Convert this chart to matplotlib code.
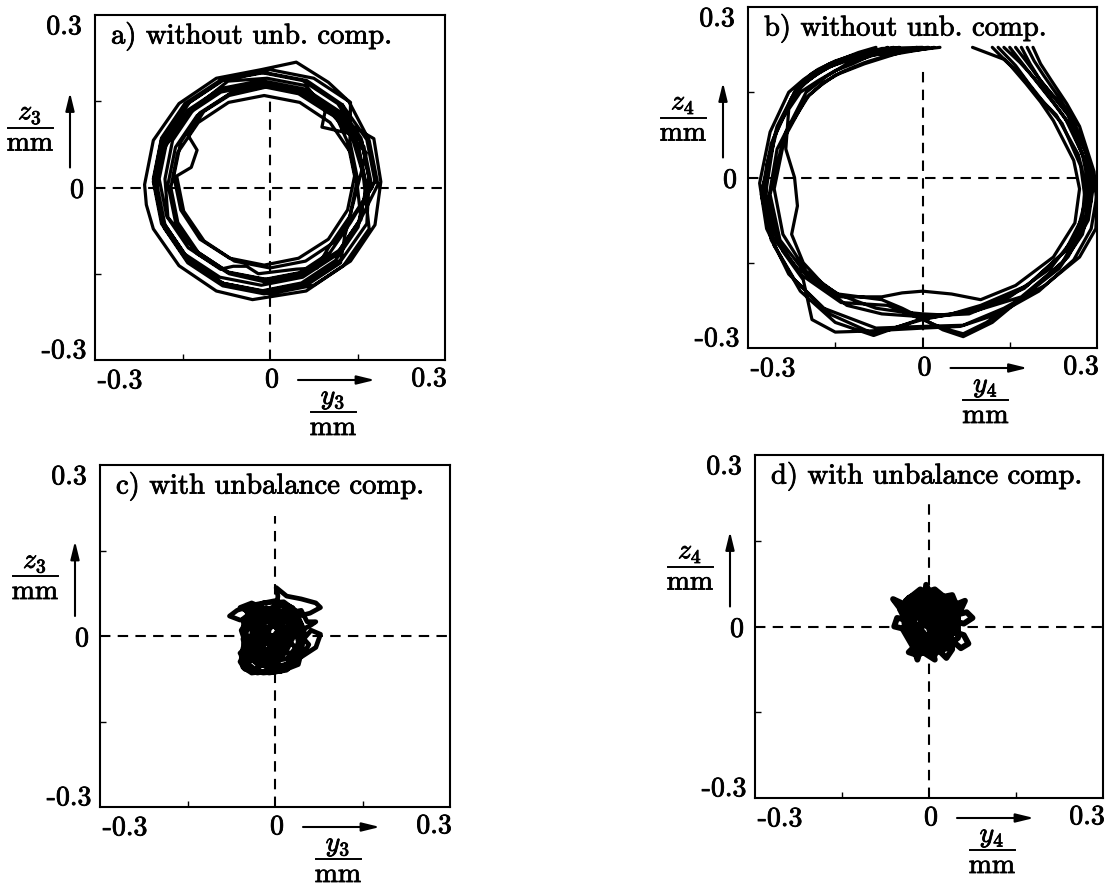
import numpy as np
import matplotlib
matplotlib.use("Agg")
import matplotlib.pyplot as plt
import matplotlib.patheffects as pe
from matplotlib.lines import Line2D

plt.rcParams['mathtext.fontset'] = 'cm'
plt.rcParams['font.family'] = ['cmr10', 'DejaVu Serif']
plt.rcParams['axes.formatter.use_mathtext'] = True

# ---------------- data ----------------
tick_values = [-0.3, 0.0, 0.3]
tick_labels = ['-0.3', '0', '0.3']
minor_ticks = [-0.15, 0.15]
titles = ['a) without unb. comp.', 'b) without unb. comp.',
          'c) with unbalance comp.', 'd) with unbalance comp.']
y_numerators = [r'$z_3$', r'$z_4$', r'$z_3$', r'$z_4$']
x_numerators = [r'$y_3$', r'$y_4$', r'$y_3$', r'$y_4$']
unit = 'mm'

# a) orbit y3 / z3 without unbalance compensation
a_y = [.180,.166,.124,.063,-.010,-.083,-.144,-.186,-.200,-.186,-.144,-.083,-.010,.063,.124,.166,
       .170,.157,.132,.089,.095,.062,-.005,-.072,-.129,-.167,-.180,-.175,-.129,-.072,-.005,.062,.119,.157,
       .185,.170,.135,.100,.045,-.015,-.092,-.156,-.200,-.215,-.212,-.200,-.156,-.092,-.030,.062,.126,.170,
       .160,.148,.113,.061,.000,-.061,-.113,-.140,-.125,-.135,-.160,-.148,-.113,-.061,.000,.061,.113,.148,
       .175,.161,.121,.061,-.010,-.081,-.141,-.181,-.195,-.181,-.141,-.081,-.010,.061,.121,.128,.165,
       .100,.045,-.020,-.085,-.140,-.177,-.190,-.177,-.140,-.085,-.063,-.040,-.020,.045,.080,.100,.137,.150,.137,
       .138,.075,.000,-.075,-.138,-.180,-.195,-.180,-.138,-.075,.000,.075,.138,.180,.190,.178,
       .100,.049,-.010,-.069,-.120,-.153,-.165,-.153,-.120,-.069,-.010,.049,.100,.133,.145,.133,
       .112,.054,-.015,-.084,-.142,-.181,-.195,-.181,-.142,-.084,-.015,.054,.112,.151,.165,.151,.124,
       .165,.152,.115,.060,-.005,-.070,-.125,-.162,-.175,-.162,-.125,-.070,-.005,.060,.115,.152,
       .170,.156,.116,.056,-.015,-.086,-.146,-.186,-.200,-.186,-.146,-.086,-.015,.056,.116,.156,
       .150,.138,.103,.051,-.010,-.071,-.123,-.158,-.170,-.158,-.123,-.071,-.010,.051,.103,.138,.180]
a_z = [.010,.083,.144,.186,.200,.186,.144,.083,.010,-.063,-.124,-.166,-.180,-.166,-.124,-.063,
       .015,.082,.095,.105,.135,.177,.190,.185,.139,.082,.015,-.052,-.109,-.147,-.160,-.147,-.109,-.052,
       .005,.082,.150,.183,.218,.205,.190,.146,.082,.005,-.030,-.072,-.136,-.180,-.195,-.180,-.136,-.072,
       .020,.081,.133,.168,.180,.168,.133,.090,.065,.035,.020,-.041,-.093,-.128,-.140,-.128,-.093,-.041,
       .000,.071,.131,.171,.185,.171,.131,.071,.000,-.071,-.131,-.171,-.185,-.171,-.131,-.085,.060,
       .135,.172,.185,.172,.135,.080,.015,-.050,-.105,-.142,-.137,-.137,-.150,-.142,-.140,-.105,-.050,.015,.080,
       .148,.190,.205,.190,.148,.085,.010,-.065,-.128,-.170,-.185,-.170,-.128,-.065,.010,.085,
       .130,.163,.175,.163,.130,.079,.020,-.039,-.090,-.123,-.135,-.123,-.090,-.039,.020,.079,
       .127,.166,.180,.166,.127,.069,.000,-.069,-.127,-.166,-.180,-.166,-.127,-.069,.000,.069,.144,
       .005,.070,.125,.170,.175,.160,.125,.070,.005,-.060,-.115,-.150,-.165,-.150,-.115,-.060,
       .015,.086,.146,.186,.200,.186,.146,.086,.015,-.056,-.116,-.156,-.170,-.156,-.116,-.056,
       .000,.061,.113,.148,.160,.148,.113,.061,.000,-.061,-.113,-.148,-.160,-.148,-.113,-.061,.010]

# b) orbit y4 / z4 without unbalance compensation (signal leaves range at top -> gaps)
nan = float('nan')
b_y = [.140,.168,.192,.218,.245,.280,.293,.285,.250,.185,.120,.070,.035,.000,-.035,-.070,-.145,-.215,-.262,-.275,-.250,-.210,-.180,-.150,-.110,-.070,.000, nan,
       .160,.178,.196,.222,.250,.275,.285,.280,.240,.170,.090,.045,.000,-.040,-.084,-.150,-.210,-.255,-.270,-.255,-.220,-.190,-.160,-.125,-.090,.030, nan,
       .120,.152,.178,.203,.225,.260,.270,.262,.225,.160,.100,.050,.000,-.035,-.070,-.140,-.200,-.240,-.255,-.235,-.195,-.170,-.140,-.100,-.060,.020, nan,
       .180,.192,.208,.235,.260,.290,.300,.290,.260,.200,.130,.065,.000,-.090,-.150,-.190,-.205,-.240,-.270,-.268,-.250,-.215,-.190,-.160,-.110,-.080, nan,
       .086,.140,.172,.198,.230,.268,.280,.275,.245,.175,.100,.050,.000,-.070,-.130,-.200,-.245,-.262,-.240,-.200,-.175,-.150,-.100,-.010, nan,
       .150,.172,.195,.226,.255,.283,.290,.275,.235,.160,.110,.070,.035,.000,-.060,-.140,-.210,-.250,-.265,-.250,-.200,-.165,-.130,-.085,-.040,.010, nan,
       .170,.185,.203,.230,.255,.282,.290,.283,.250,.180,.100,.050,.000,-.040,-.084,-.160,-.220,-.260,-.277,-.260,-.225,-.200,-.170,-.135,-.100,-.050, nan,
       .130,.160,.183,.210,.240,.272,.280,.265,.220,.150,.080,.040,.000,-.040,-.080,-.160,-.205,-.225,-.215,-.220,-.235,-.230,-.210,-.180,-.150,-.120,-.060, nan,
       .190,.203,.222,.248,.270,.295,.300,.298,.270,.210,.140,.070,.000,-.080,-.170,-.230,-.268,-.280,-.262,-.230,-.205,-.180,-.150,-.120,-.040]
b_z = [.229,.202,.175,.142,.105,.030,-.020,-.075,-.140,-.200,-.255,-.280,-.268,-.248,-.230,-.215,-.205,-.160,-.100,-.020,.085,.160,.183,.200,.215,.227,.229, nan,
       .229,.205,.180,.146,.110,.040,-.010,-.080,-.150,-.210,-.235,-.242,-.248,-.262,-.278,-.255,-.200,-.120,-.030,.070,.150,.176,.195,.207,.215,.229, nan,
       .229,.196,.165,.133,.100,.030,-.020,-.080,-.140,-.190,-.215,-.205,-.200,-.203,-.210,-.210,-.165,-.100,-.020,.080,.145,.167,.185,.202,.215,.229, nan,
       .229,.205,.180,.140,.100,.020,-.030,-.090,-.145,-.200,-.240,-.262,-.265,-.270,-.272,-.250,-.180,-.130,-.060,.020,.090,.160,.183,.200,.220,.229, nan,
       .229,.208,.178,.143,.110,.040,-.010,-.070,-.130,-.195,-.230,-.240,-.245,-.240,-.225,-.170,-.110,-.030,.065,.140,.162,.180,.200,.229, nan,
       .229,.200,.170,.130,.090,.020,-.040,-.100,-.160,-.220,-.255,-.275,-.265,-.250,-.225,-.220,-.170,-.110,-.040,.050,.150,.178,.200,.215,.225,.229, nan,
       .229,.200,.170,.138,.105,.040,-.005,-.065,-.125,-.190,-.225,-.240,-.250,-.262,-.275,-.240,-.180,-.110,-.030,.060,.140,.168,.190,.205,.215,.229, nan,
       .229,.197,.165,.130,.095,.020,-.040,-.100,-.160,-.210,-.240,-.242,-.240,-.236,-.230,-.200,-.150,-.100,-.050,.000,.050,.120,.150,.170,.188,.200,.229, nan,
       .229,.200,.170,.130,.090,.010,-.050,-.090,-.140,-.190,-.230,-.260,-.262,-.265,-.230,-.170,-.090,-.010,.080,.150,.172,.190,.205,.215,.229]

# c) orbit y3 / z3 with unbalance compensation
c_y = [0.000,0.025,0.030,0.005,-0.025,-0.040,-0.035,-0.010,0.020,0.040,0.045,0.030,0.000,-0.035,-0.065,-0.078,
       -0.060,-0.030,-0.010,-0.020,-0.045,-0.055,-0.040,-0.015,0.010,0.035,0.050,0.058,0.045,0.020,0.000,0.005,
       0.002,0.020,0.045,0.070,0.078,0.060,0.040,0.015,-0.015,-0.045,-0.055,-0.050,-0.030,-0.005,0.015,0.035,
       0.060,0.070,0.055,0.045,0.020,-0.005,-0.025,-0.045,-0.060,-0.050,-0.025,0.000,0.025,0.040,0.055,0.070,
       0.078,0.062,0.045,0.030,0.010,-0.020,-0.045,-0.058,-0.040,-0.020,-0.040,-0.060,-0.040,-0.010,0.010,0.000,
       -0.020,-0.035,-0.010,0.020,0.030,0.010,-0.015,-0.030,-0.010,0.000,
       -0.030,-0.045,-0.030,-0.010,0.005,-0.010,-0.035,-0.050,-0.035,-0.010,0.010,0.020,0.010,-0.015,-0.040,-0.050,
       -0.040,-0.020,0.000,0.020,0.040,0.045,0.030,0.010,-0.015,-0.030,-0.025,0.000,0.020,0.025,0.005,-0.020,
       -0.040,-0.030,-0.005,0.015,0.035,0.040,0.020,-0.005,-0.030,-0.052,-0.060,-0.045,-0.020,0.000,
       0.000,-0.030,-0.055,-0.050,-0.030,0.000,0.030,0.040,0.030,0.000,-0.040,-0.058,-0.045,-0.015,0.020,0.045,
       0.035,0.010,-0.020,-0.040,-0.020,0.010,0.025,0.010,-0.015,-0.025,0.000,0.015,-0.005,-0.035,-0.050,-0.020,
       0.015,0.035,0.050,0.045,0.020,-0.010,-0.040,-0.058,-0.050,-0.030]
c_z = [0.000,0.020,0.045,0.055,0.040,0.010,-0.025,-0.045,-0.040,-0.015,0.020,0.050,0.062,0.055,0.045,0.035,
       0.028,0.030,0.010,-0.020,-0.035,-0.055,-0.065,-0.062,-0.055,-0.045,-0.030,-0.015,0.000,0.010,0.030,0.070,
       0.085,0.070,0.065,0.058,0.050,0.040,0.035,0.025,0.030,0.020,-0.005,-0.030,-0.050,-0.035,-0.015,0.005,
       0.018,0.025,0.025,0.045,0.040,0.020,0.000,-0.015,-0.030,-0.045,-0.040,-0.025,-0.030,-0.040,-0.030,-0.020,
       0.003,0.010,-0.010,-0.050,-0.062,-0.065,-0.060,-0.040,-0.010,0.015,0.040,0.050,0.058,0.045,0.020,-0.010,
       -0.030,-0.045,-0.050,-0.005,0.015,0.035,0.050,0.020,-0.015,0.000,
       0.000,0.025,0.040,0.030,0.010,-0.010,-0.020,-0.045,-0.058,-0.045,-0.030,-0.010,0.020,0.040,0.030,0.005,
       -0.030,-0.040,-0.050,-0.058,-0.050,-0.030,-0.015,0.000,-0.005,0.015,0.035,0.045,0.030,0.005,-0.020,-0.025,
       -0.005,0.025,0.025,0.045,0.040,0.015,-0.025,-0.060,-0.065,-0.058,-0.045,-0.020,0.005,0.020,
       0.020,0.050,0.030,-0.010,-0.045,-0.058,-0.045,-0.010,0.030,0.050,0.040,0.010,-0.030,-0.055,-0.050,-0.020,
       0.015,0.040,0.030,0.000,-0.030,-0.035,-0.005,0.025,0.015,-0.010,-0.015,0.005,0.000,0.020,0.045,0.058,
       0.060,0.045,0.010,-0.035,-0.060,-0.065,-0.058,-0.035,0.000,0.000]

# d) orbit y4 / z4 with unbalance compensation
d_y = [0.000,0.020,0.010,-0.015,-0.035,-0.035,-0.015,0.015,0.035,0.035,0.015,-0.005,-0.005,0.005,-0.020,-0.045,
       -0.062,-0.045,-0.025,-0.040,-0.060,-0.055,-0.030,-0.010,-0.025,-0.035,-0.020,0.000,0.020,0.030,0.040,0.025,
       0.045,0.060,0.068,0.055,0.040,0.030,0.045,0.065,0.075,0.060,0.040,0.030,0.050,0.062,0.055,0.030,
       0.010,-0.010,-0.025,-0.040,-0.030,-0.015,-0.025,-0.020,-0.015,0.000,0.010,0.015,0.025,0.010,-0.010,-0.020,
       0.000,0.020,0.020,0.000,-0.015,0.000,0.010,-0.005,-0.020,-0.010,0.005,0.025,0.025,0.005,0.000,
       0.010,-0.020,-0.030,-0.020,0.000,0.025,0.040,0.030,0.005,-0.025,-0.040,-0.030,-0.005,0.020,0.035,0.045,
       0.025,-0.005,-0.030,-0.045,-0.040,-0.020,0.010,0.030,0.015,-0.010,-0.020,0.005,0.030,0.050,0.050,0.030,
       0.000,-0.015,-0.035,-0.050,-0.035,-0.010,0.010,0.005,0.000,
       0.030,0.000,-0.030,-0.040,-0.020,0.020,0.045,0.040,0.010,-0.020,-0.045,-0.035,0.000,0.035,0.050,0.025,
       -0.010,-0.030,-0.010,0.020,0.030,0.005,-0.015,0.010,0.015,-0.005,-0.025,-0.040,-0.015,0.015,0.040,0.050,
       0.035,0.040,0.010,-0.025,-0.045,-0.030,0.000]
d_z = [0.000,0.025,0.045,0.040,0.020,-0.010,-0.030,-0.030,-0.010,0.020,0.040,0.055,0.073,0.050,0.030,0.040,
       0.048,0.025,0.005,-0.005,0.000,0.015,0.010,-0.010,-0.035,-0.045,-0.050,-0.040,-0.045,-0.055,-0.040,-0.020,
       -0.010,-0.015,-0.030,-0.038,-0.025,0.000,0.020,0.025,0.015,0.005,0.010,0.030,0.040,0.045,0.030,0.025,
       0.015,0.025,0.045,0.035,0.010,-0.015,-0.040,-0.058,-0.040,-0.025,-0.050,-0.035,-0.010,0.005,0.005,-0.015,
       -0.015,0.005,0.030,0.035,0.020,0.010,-0.010,-0.025,-0.010,0.015,0.025,0.015,-0.005,-0.005,0.000,
       0.030,0.040,0.020,-0.005,-0.020,-0.025,0.000,0.030,0.045,0.030,0.005,-0.025,-0.035,-0.040,-0.020,0.010,
       0.035,0.040,0.045,0.025,-0.010,-0.030,-0.020,0.005,0.025,0.015,-0.010,-0.030,-0.035,-0.020,0.020,0.045,
       0.050,0.060,0.050,0.030,0.000,-0.045,-0.058,-0.040,0.000,
       0.040,0.060,0.040,0.010,-0.030,-0.035,0.000,0.040,0.065,0.055,0.020,-0.015,-0.040,-0.025,0.015,0.050,
       0.045,0.015,-0.020,-0.015,0.020,0.035,0.005,-0.005,0.025,0.020,0.030,0.045,0.065,0.050,0.055,0.030,
       0.000,-0.035,-0.045,-0.040,-0.005,0.025,0.000]

orbits = [(a_y, a_z), (b_y, b_z), (c_y, c_z), (d_y, d_z)]

# ---------------- layout / style ----------------
W, H = 1105, 886
boxes = [(95, 15, 350, 345), (748, 7, 349, 341), (100, 465, 350, 342), (755, 455, 348, 343)]
vline_top = [0.15, 0.19, 0.21, 0.215]
trace_lw = [2.3, 2.3, 3.4, 4.2]
xtick_off = [(25, 21), (2, 20), (-16, 19)]     # (dx right, dy down) pixels
ytick_off = [(-31, -9), (-18, 3), (-31, 12)]
FS = 20
stroke = [pe.withStroke(linewidth=0.6, foreground='black')]
arrow_style = dict(arrowstyle='-|>,head_length=0.9,head_width=0.22', mutation_scale=12,
                   lw=1.5, color='black', shrinkA=0, shrinkB=0)


def fraction(fig, cx, cy, num, width=45):
    """Numerator / bar / 'mm' centred at display pixel (cx, cy) = bar centre."""
    fig.text(cx, cy + 8, num, transform=None, ha='center', va='baseline',
             fontsize=FS, path_effects=stroke)
    fig.add_artist(Line2D([cx - width / 2, cx + width / 2], [cy, cy], transform=None,
                          color='black', lw=1.4))
    fig.text(cx, cy - 23, unit, transform=None, ha='center', va='baseline',
             fontsize=FS, path_effects=stroke)


fig = plt.figure(figsize=(W / 100, H / 100), dpi=100)
fig.patch.set_facecolor('white')

for i, (l, t, w, h) in enumerate(boxes):
    ax = fig.add_axes([l / W, 1 - (t + h) / H, w / W, h / H])
    ax.set_xlim(-0.3, 0.3)
    ax.set_ylim(-0.3, 0.3)
    for s in ax.spines.values():
        s.set_linewidth(1.5)
    ax.set_xticks(minor_ticks)
    ax.set_yticks(minor_ticks)
    ax.set_xticklabels([])
    ax.set_yticklabels([])
    ax.tick_params(direction='in', length=4, width=1.0)

    ax.axhline(0, color='black', lw=1.5, dashes=(5, 3.5), zorder=1)
    ax.plot([0, 0], [-0.3, vline_top[i]], color='black', lw=1.5, dashes=(5, 3.5), zorder=1)

    ys, zs = orbits[i]
    ax.plot(ys, zs, color='black', lw=trace_lw[i], solid_joinstyle='round',
            solid_capstyle='round', zorder=3)

    ax.text(16 / w, 1 - 21 / h, titles[i], transform=ax.transAxes, ha='left', va='center',
            fontsize=FS + 0.6, path_effects=stroke)

    # tick labels
    for v, lab, (dx, dy) in zip(tick_values, tick_labels, xtick_off):
        bx, by = ax.transData.transform((v, -0.3))
        fig.text(bx + dx, by - dy, lab, transform=None, ha='center', va='center',
                 fontsize=FS, path_effects=stroke)
    for v, lab, (dx, dy) in zip(tick_values, tick_labels, ytick_off):
        bx, by = ax.transData.transform((-0.3, v))
        fig.text(bx + dx, by - dy, lab, transform=None, ha='center', va='center',
                 fontsize=FS, path_effects=stroke)

    # y axis label + arrow
    bx, by = ax.transData.transform((-0.3, 0.0))
    fraction(fig, bx - 65, by + 60, y_numerators[i])
    ax.annotate('', xy=(bx - 25, by + 95), xytext=(bx - 25, by + 20),
                xycoords='figure pixels', textcoords='figure pixels',
                arrowprops=arrow_style, annotation_clip=False)
    # x axis label + arrow
    bx, by = ax.transData.transform((0.0, -0.3))
    fraction(fig, bx + 63, by - 52, x_numerators[i])
    ax.annotate('', xy=(bx + 105, by - 20), xytext=(bx + 28, by - 20),
                xycoords='figure pixels', textcoords='figure pixels',
                arrowprops=arrow_style, annotation_clip=False)

fig.savefig('out.png', dpi=100)
